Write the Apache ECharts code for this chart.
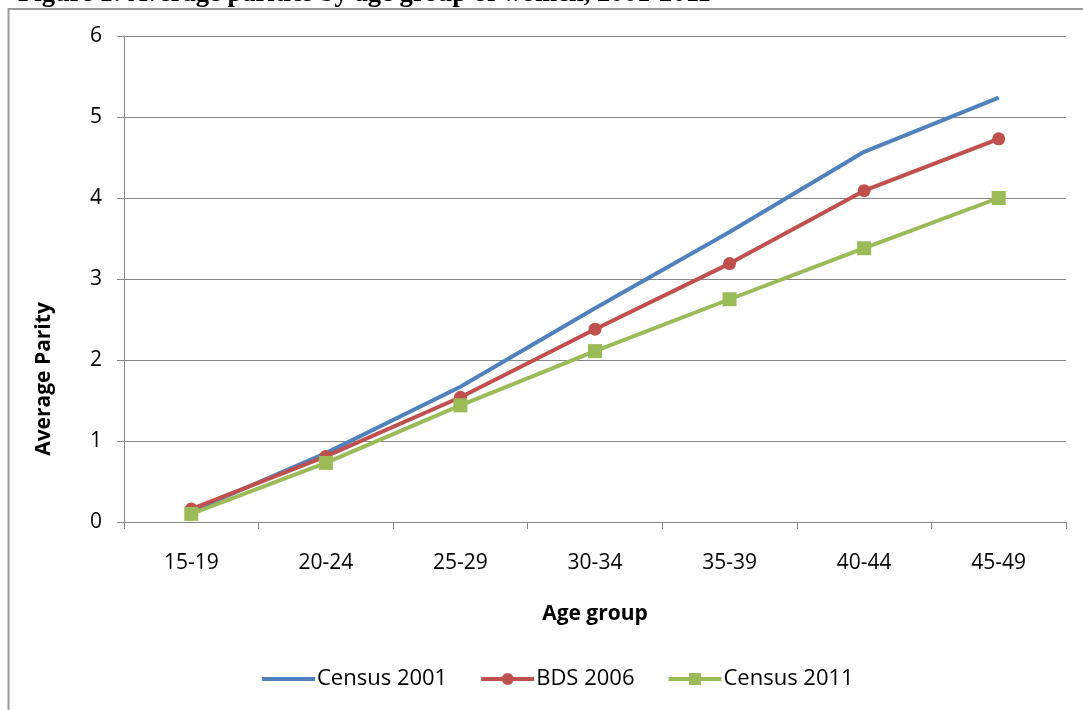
<!DOCTYPE html>
<html>
<head>
<meta charset="utf-8">
<script src="https://cdn.jsdelivr.net/npm/echarts@6/dist/echarts.min.js"></script>
<style>
  html, body { margin: 0; padding: 0; background: #fff; }
  #chart { width: 1083px; height: 710px; }
</style>
</head>
<body>
<div id="chart"></div>
<script>
// Age groups on the category axis
const ageGroups = ['15-19', '20-24', '25-29', '30-34', '35-39', '40-44', '45-49'];

// Average parity per age group, one array per survey
const census2001 = [0.13, 0.85, 1.67, 2.64, 3.58, 4.57, 5.24];
const bds2006    = [0.16, 0.81, 1.54, 2.38, 3.19, 4.09, 4.73];
const census2011 = [0.10, 0.73, 1.44, 2.11, 2.75, 3.38, 4.00];

const seriesNames = ['Census 2001', 'BDS 2006', 'Census 2011'];
const titleText = 'Figure 1: Average parities by age group of women, 2001-2011';
const yAxisTitle = 'Average Parity';

const FONT = 'Open Sans';
const TEXT_COLOR = '#000';
const AXIS_GRAY = '#868686';

const chart = echarts.init(document.getElementById('chart'), null, { renderer: 'canvas' });

const lineSeries = (name, data, color, symbol, size) => ({
  name,
  type: 'line',
  data,
  symbol,
  symbolSize: size,
  showSymbol: symbol !== 'none',
  lineStyle: { width: 4, color },
  itemStyle: { color },
  emphasis: { disabled: true },
  animation: false
});

chart.setOption({
  animation: false,
  graphic: [
    {
      // figure caption, running off the top edge of the page
      type: 'text',
      x: 18,
      y: 8,
      style: {
        text: titleText,
        font: 'bold 26.6px "Liberation Serif"',
        fill: '#000',
        align: 'left',
        verticalAlign: 'bottom'
      }
    },
    {
      type: 'polyline',
      shape: { points: [[8.5, 710], [8.5, 9], [1083, 9]] },
      style: { stroke: '#9a9a9a', lineWidth: 2, fill: null }
    },
    {
      type: 'text',
      x: 44,
      y: 379,
      rotation: Math.PI / 2,
      style: {
        text: yAxisTitle,
        font: 'bold 21px "Open Sans"',
        fill: TEXT_COLOR,
        align: 'center',
        verticalAlign: 'middle'
      }
    }
  ],
  grid: { left: 124, right: 17, top: 36, bottom: 188, containLabel: false },
  legend: {
    bottom: 15,
    left: 255,
    itemWidth: 53,
    itemHeight: 15,
    itemGap: 32,
    lineStyle: { width: 4 },
    data: [
      { name: seriesNames[0], itemStyle: { opacity: 0 } },
      { name: seriesNames[1] },
      { name: seriesNames[2] }
    ],
    textStyle: { fontFamily: FONT, fontSize: 22, color: TEXT_COLOR, padding: [0, 0, 0, -3] }
  },
  xAxis: {
    type: 'category',
    data: ageGroups,
    boundaryGap: true,
    name: 'Age group',
    nameLocation: 'middle',
    nameGap: 82,
    nameTextStyle: { fontFamily: FONT, fontSize: 21, fontWeight: 'bold', color: TEXT_COLOR },
    axisLine: { lineStyle: { color: AXIS_GRAY, width: 1 } },
    axisTick: { show: true, length: 7, alignWithLabel: false, lineStyle: { color: AXIS_GRAY } },
    axisLabel: { margin: 31, fontFamily: FONT, fontSize: 21, color: TEXT_COLOR },
    splitLine: { show: false }
  },
  yAxis: {
    type: 'value',
    min: 0,
    max: 6,
    interval: 1,
    axisLine: { show: true, lineStyle: { color: AXIS_GRAY, width: 1 } },
    axisTick: { show: true, length: 7, lineStyle: { color: AXIS_GRAY } },
    axisLabel: { margin: 22, fontFamily: FONT, fontSize: 21, color: TEXT_COLOR },
    splitLine: { show: true, lineStyle: { color: AXIS_GRAY, width: 1 } }
  },
  series: [
    lineSeries(seriesNames[0], census2001, '#4F81BD', 'none', 0),
    lineSeries(seriesNames[1], bds2006, '#C0504D', 'circle', 13),
    lineSeries(seriesNames[2], census2011, '#9BBB59', 'rect', 14)
  ]
});
</script>
</body>
</html>
